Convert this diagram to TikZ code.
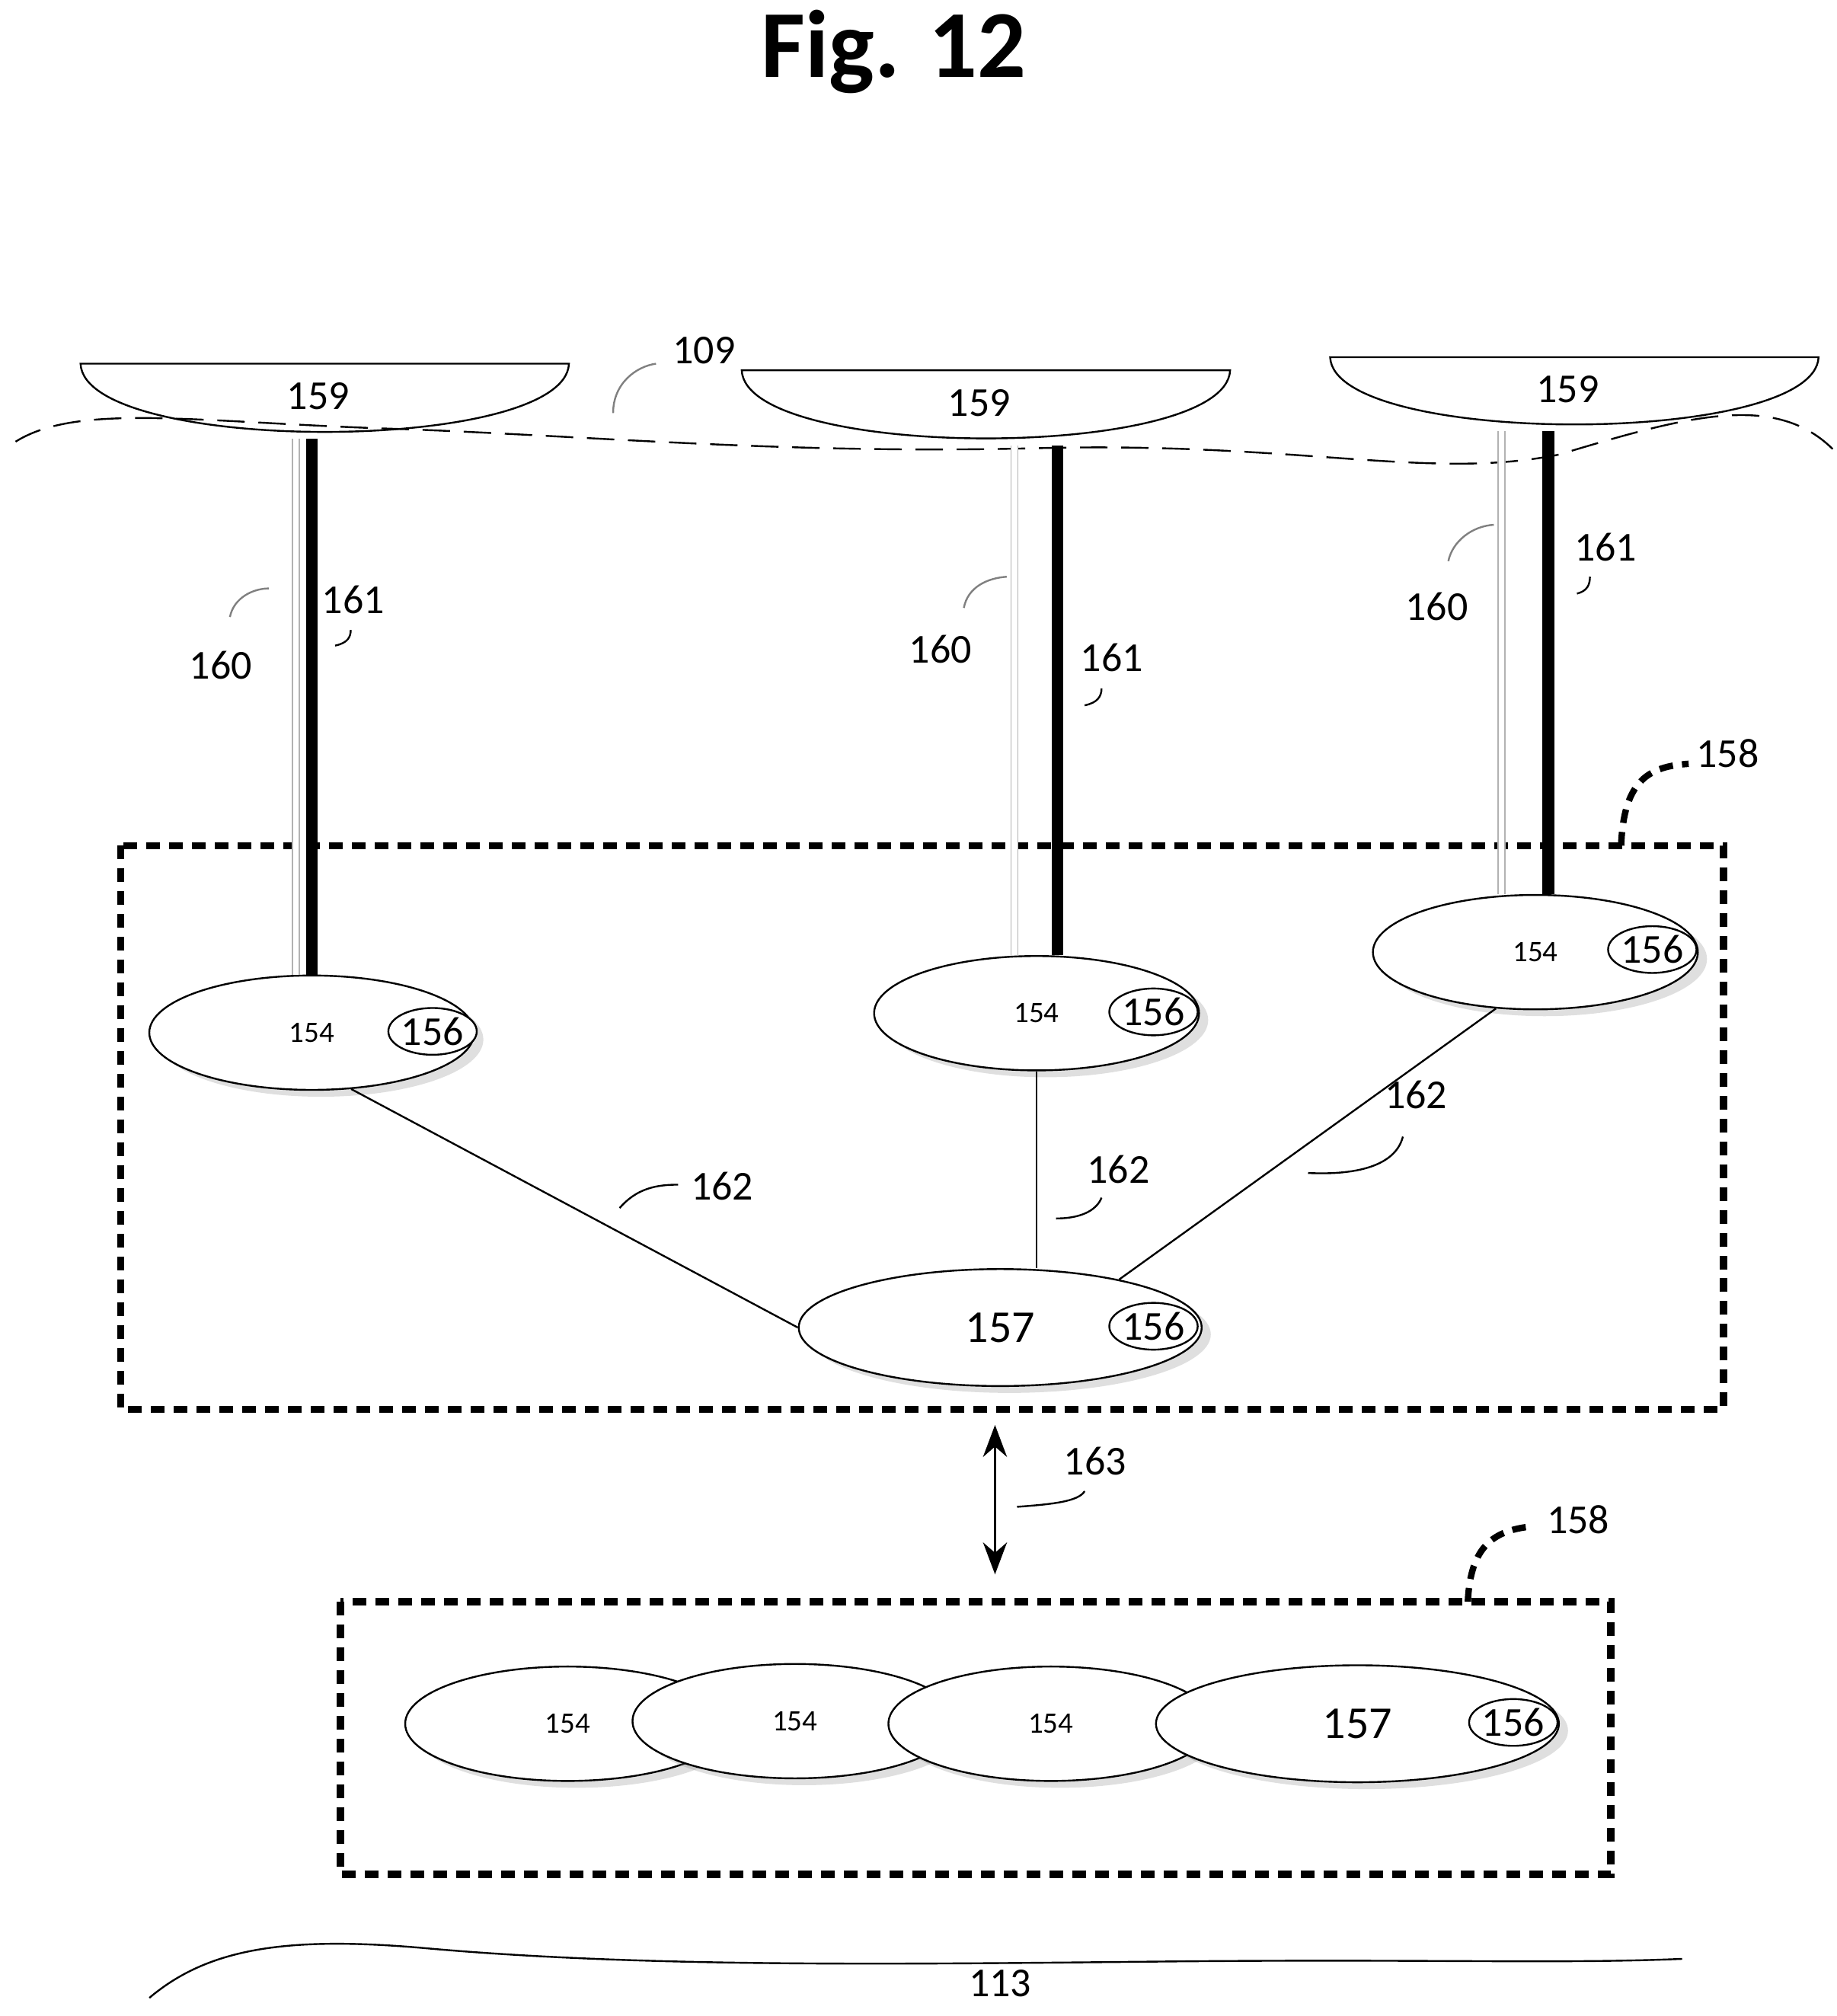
\documentclass[tikz,border=0pt]{standalone}
\usepackage{fontspec}
\setmainfont{Carlito}
\usetikzlibrary{shapes.geometric,shadows,arrows.meta}
\begin{document}
\begin{tikzpicture}[x=0.01cm,y=-0.01cm,
    pod/.style={ellipse,draw,fill=white,inner sep=0pt,minimum width=2.5cm,minimum height=0.88cm,
      font=\fontsize{6.5}{7}\selectfont,drop shadow={opacity=0.25,shadow xshift=2pt,shadow yshift=-1.5pt}},
    hub/.style={pod,minimum width=3.1cm,minimum height=0.9cm,font=\fontsize{10}{11}\selectfont},
    tag/.style={ellipse,draw,fill=white,inner sep=0pt,minimum width=0.66cm,minimum height=0.36cm,font=\fontsize{9}{10}\selectfont},
    lbl/.style={font=\fontsize{9}{10}\selectfont},
    lead/.style={gray,thin},
    grp/.style={line width=1.6pt,dash pattern=on 3pt off 2pt}]
  \useasboundingbox (0,0) rectangle (1414,1552);

  % titre
  \node[font=\fontsize{21}{24}\selectfont\bfseries] (title) at (688,40) {Fig. 12};

  % flotteurs 159
  \foreach \cx/\ty/\by [count=\i] in {250/280/338, 759/285/343, 1212/275/332}{
    \draw[fill=white] (\cx-188,\ty) -- (\cx+188,\ty) .. controls (\cx+185,\by+12) and (\cx-185,\by+12) .. (\cx-188,\ty) -- cycle;
    \node[lbl] (f\i) at (\cx-5,\ty+25) {159};
  }

  % surface 109
  \draw[dash pattern=on 6pt off 3pt] (12,340) .. controls (60,310) and (150,325) .. (300,330)
    .. controls (450,335) and (600,350) .. (800,345)
    .. controls (1000,340) and (1100,370) .. (1200,350)
    .. controls (1300,320) and (1370,300) .. (1415,350);
  \node[lbl] (s109) at (542,270) {109};
  \draw[lead] (472,318) .. controls (472,295) and (490,282) .. (505,280);

  % groupe 158 haut
  \draw[grp] (93,651) rectangle (1327,1085);
  \node[lbl] (g1) at (1330,580) {158};
  \draw[grp,line width=1.4pt] (1248,651) .. controls (1250,600) and (1270,590) .. (1300,588);

  \node[pod] (l154) at (240,795) {154};
  \node[pod] (c154) at (798,780) {154};
  \node[pod] (r154) at (1182,733) {154};
  \node[hub] (n157) at (770,1022) {157};
  \node[tag] (lt) at (333,794) {156};
  \node[tag] (ct) at (888,779) {156};
  \node[tag] (rt) at (1272,731) {156};
  \node[tag] (ht) at (888,1021) {156};

  % lignes 160 / 161
  \foreach \a/\b/\t/\s in {228/240/338/l154, 781/814/343/c154, 1156/1192/332/r154}{
    \draw[gray!60,double=white,double distance=1.2pt,line width=0.3pt] (\a,\t) -- (\s.north -| \a,\t);
    \draw[line width=2.6pt] (\b,\t) -- (\s.north -| \b,\t);
  }
  \node[lbl] (a160) at (170,512) {160};
  \draw[lead] (177,475) .. controls (180,460) and (195,453) .. (207,453);
  \node[lbl] (a161) at (272,462) {161};
  \draw (258,497) .. controls (268,495) and (270,490) .. (270,485);
  \node[lbl] (b160) at (724,500) {160};
  \draw[lead] (742,468) .. controls (745,452) and (760,445) .. (775,444);
  \node[lbl] (b161) at (856,506) {161};
  \draw (835,543) .. controls (845,541) and (848,536) .. (848,530);
  \node[lbl] (c160) at (1106,467) {160};
  \draw[lead] (1115,432) .. controls (1118,417) and (1133,405) .. (1150,404);
  \node[lbl] (c161) at (1236,421) {161};
  \draw (1214,457) .. controls (1222,455) and (1224,450) .. (1224,444);

  % liaisons 162
  \draw (l154.-55) -- (n157.west);
  \draw (c154.south) -- (n157.north -| c154.south);
  \draw (r154.-125) -- (n157.22);
  \node[lbl] (d1) at (556,913) {162};
  \draw (477,930) .. controls (490,915) and (505,912) .. (522,912);
  \node[lbl] (d2) at (861,900) {162};
  \draw (813,938) .. controls (835,938) and (845,930) .. (848,922);
  \node[lbl] (d3) at (1090,843) {162};
  \draw (1007,903) .. controls (1050,905) and (1075,895) .. (1080,875);

  % 163
  \coordinate (up) at (766,1097);
  \coordinate (dn) at (766,1212);
  \draw[{Stealth[length=7pt]}-{Stealth[length=7pt]}] (up) -- (dn);
  \node[lbl] (e163) at (843,1125) {163};
  \draw (783,1160) .. controls (810,1158) and (830,1156) .. (835,1148);

  % groupe 158 bas
  \draw[grp] (262,1233) rectangle (1240,1443);
  \node[lbl] (g2) at (1215,1170) {158};
  \draw[grp,line width=1.4pt] (1130,1233) .. controls (1132,1190) and (1150,1178) .. (1180,1175);
  \node[pod] (p1) at (437,1327) {154};
  \node[pod] (p2) at (612,1325) {154};
  \node[pod] (p3) at (809,1327) {154};
  \node[hub] (p4) at (1045,1327) {157};
  \node[tag] (pt) at (1165,1326) {156};

  % fond 113
  \draw (115,1538) .. controls (160,1500) and (220,1490) .. (330,1500)
    .. controls (500,1515) and (700,1512) .. (900,1510)
    .. controls (1100,1508) and (1200,1512) .. (1295,1508);
  \node[lbl] (h113) at (770,1527) {113};
\end{tikzpicture}
\end{document}
